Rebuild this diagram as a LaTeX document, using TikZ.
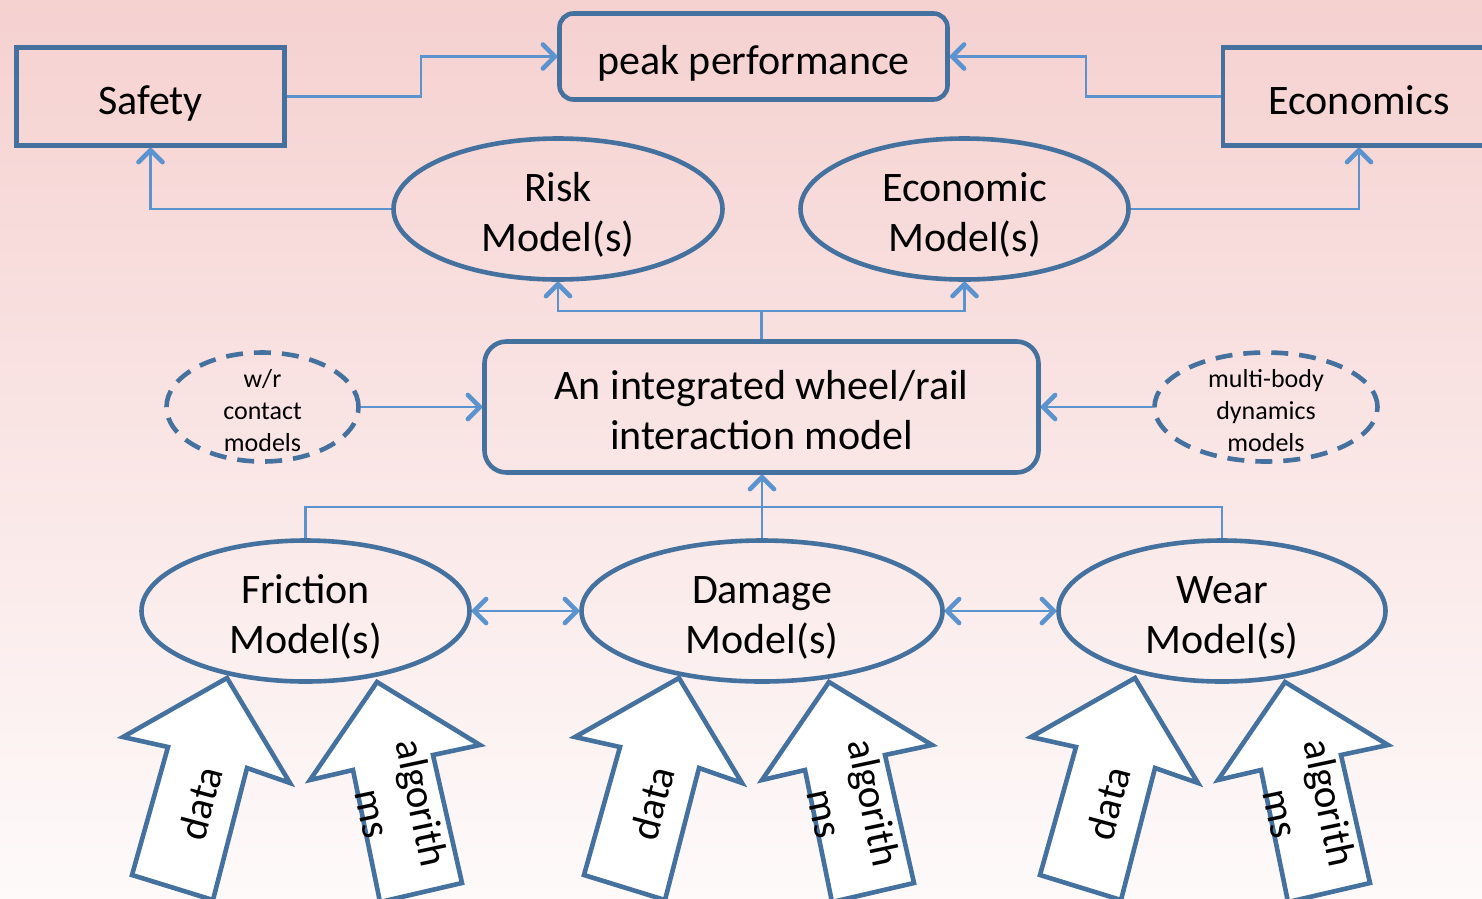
\documentclass[tikz,border=0pt]{standalone}
\usepackage{fontspec}
\setmainfont{Carlito}
\usetikzlibrary{arrows.meta,shapes.geometric}
\definecolor{bord}{HTML}{45719F}
\definecolor{lnk}{HTML}{5B93CF}
\definecolor{bgtop}{HTML}{F5D1D0}
\definecolor{bgbot}{HTML}{FEFAFA}
\newcommand\hstr{\rule{0pt}{44pt}}
\newcommand\dstr{\rule[-9pt]{0pt}{9pt}}
\newcommand\hsml{\rule{0pt}{27pt}}
\newcommand\dsml{\rule[-3pt]{0pt}{3pt}}
\tikzset{
  boxst/.style={draw=bord, line width=4.6pt, rectangle, inner sep=0pt, align=center, font=\fontsize{42}{50}\selectfont},
  ellst/.style={draw=bord, line width=4.6pt, ellipse, inner xsep=0pt, inner ysep=-20pt, align=center, font=\fontsize{42}{50}\selectfont},
  dellst/.style={draw=bord, line width=4.6pt, ellipse, inner xsep=0pt, inner ysep=-20pt, align=center, dash pattern=on 17pt off 11pt, font=\fontsize{26}{32}\selectfont},
  tipst/.tip={Straight Barb[length=12pt, width=24pt, line width=4.6pt, round]},
  conn/.style={draw=lnk, line width=2.8pt, -tipst},
  conn2/.style={draw=lnk, line width=2.8pt, tipst-tipst},
  lk/.style={draw=lnk, line width=2.8pt},
  blk/.style={draw=bord, line width=4.6pt, fill=white, line join=miter},
  blktxt/.style={inner sep=0pt, align=center, font=\fontsize{41}{50}\selectfont},
  inputs/.pic={
    \draw[blk] (227,678) -- (290,783) -- (247,768) -- (213,900) -- (132,875) -- (168,747) -- (123,737) -- cycle;
    \draw[blk] (377,682) -- (480,745) -- (433,755) -- (462,883) -- (380,902) -- (353,770) -- (310,780) -- cycle;
    \node[blktxt, rotate=75] (-dt) at (200,803) {data};
    \node[blktxt, rotate=-78] (-al) at (398,808) {algorith\\ms};
  }
}
\begin{document}
\begin{tikzpicture}[x=1pt, y=-1pt]
\useasboundingbox (0,0) rectangle (1482,898);
\shade[top color=bgtop, bottom color=bgbot] (0,0) rectangle (1482,898);

% block arrows (drawn first)
\pic (fr) at (0,0) {inputs};
\pic (dm) at (452,0) {inputs};
\pic (wr) at (908,0) {inputs};

% top row
\node[boxst, minimum width=268pt, minimum height=98pt] (safety) at (150.5,96.5) {\hstr Safety\dstr};
\node[boxst, rounded corners=14pt, minimum width=388pt, minimum height=86pt] (peak) at (753.5,56.5) {\hstr peak performance\dstr};
\node[boxst, minimum width=272pt, minimum height=98pt] (econ) at (1359,96.5) {\hstr Economics\dstr};

% model ellipses
\node[ellst, minimum width=329pt, minimum height=141pt] (risk) at (558,209) {\hstr Risk\\Model(s)\dstr};
\node[ellst, minimum width=328pt, minimum height=141pt] (ecm) at (964.5,209) {\hstr Economic\\Model(s)\dstr};

% integrated
\node[boxst, rounded corners=22pt, minimum width=554pt, minimum height=131pt] (integ) at (761.5,407) {\hstr An integrated wheel/rail\\interaction model\dstr};

\node[dellst, minimum width=192pt, minimum height=109pt] (wrc) at (262.5,407) {\hsml w/r\\contact\\models\dsml};
\node[dellst, minimum width=223pt, minimum height=109pt] (mbd) at (1266,407) {\hsml multi-body\\dynamics\\models\dsml};

% bottom ellipses
\node[ellst, minimum width=328pt, minimum height=141pt] (fric) at (305.5,611) {\hstr Friction\\Model(s)\dstr};
\node[ellst, minimum width=361pt, minimum height=141pt] (dam) at (762,611) {\hstr Damage\\Model(s)\dstr};
\node[ellst, minimum width=327pt, minimum height=141pt] (wear) at (1222,611) {\hstr Wear\\Model(s)\dstr};

% connectors
\draw[conn] (safety.east) -- (421,96.5) |- (peak.west);
\draw[conn] (econ.west) -- (1086,96.5) |- (peak.east);
\draw[conn] (risk.west) -| (safety.south);
\draw[conn] (ecm.east) -| (econ.south);

\coordinate (tj) at (761.5,311);
\draw[conn] (integ.north) -- (tj) -| (risk.south);
\draw[conn] (tj) -| (ecm.south);

\draw[conn] (wrc.east) -- (integ.west);
\draw[conn] (mbd.west) -- (integ.east);

\coordinate (bj) at (762,507);
\draw[lk] (fric.north) |- (bj) -| (wear.north);
\draw[conn] (dam.north) -- (dam.north |- integ.south);

\draw[conn2] (fric.east) -- (dam.west);
\draw[conn2] (dam.east) -- (wear.west);
\end{tikzpicture}
\end{document}
